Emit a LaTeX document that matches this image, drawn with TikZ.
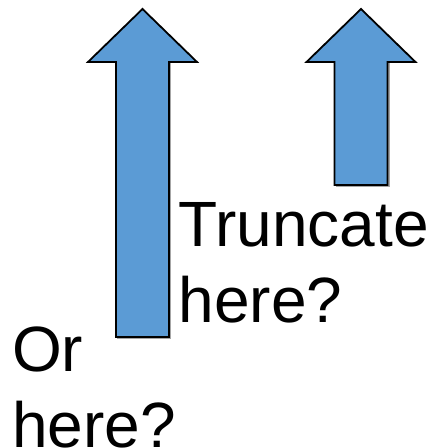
\documentclass[tikz,border=0pt]{standalone}
\usepackage{fontspec}
\setmainfont{Liberation Sans}
\definecolor{arrowblue}{HTML}{5B9BD5}
\tikzset{
  blockarrow/.style = {fill=arrowblue, draw=black, line width=1.8pt, line join=miter},
  arrowshadow/.style = {draw=black!35, line width=1.5pt},
  bigtext/.style = {font=\fontsize{64}{76}\selectfont, inner sep=0pt, align=left, anchor=base west}
}
\begin{document}
\begin{tikzpicture}[x=1pt, y=-1pt]
        \useasboundingbox (0,0) rectangle (436,448);
        %% block arrows: centre / bottom of shaft
        \foreach \cx/\bot [count=\i] in {142.5/337, 361/185} {
          \coordinate (tip\i) at (\cx, 9);
          \draw[arrowshadow, shift={(1.4,1.4)}]
              (\cx+26.5, 62) -- (\cx+26.5, \bot) -- (\cx-26.5, \bot);
          \draw[blockarrow] (tip\i) -- (\cx+54.5, 62) -- (\cx+26.5, 62)
              -- (\cx+26.5, \bot) -- (\cx-26.5, \bot) -- (\cx-26.5, 62)
              -- (\cx-54.5, 62) -- cycle;
        }

        %% labels (base = last line)
        \node[bigtext] (truncate) at (178.5, 322) {Truncate\\here?};
        \node[bigtext] (orhere) at (12, 447) {Or\\here?};
\end{tikzpicture}
\end{document}
